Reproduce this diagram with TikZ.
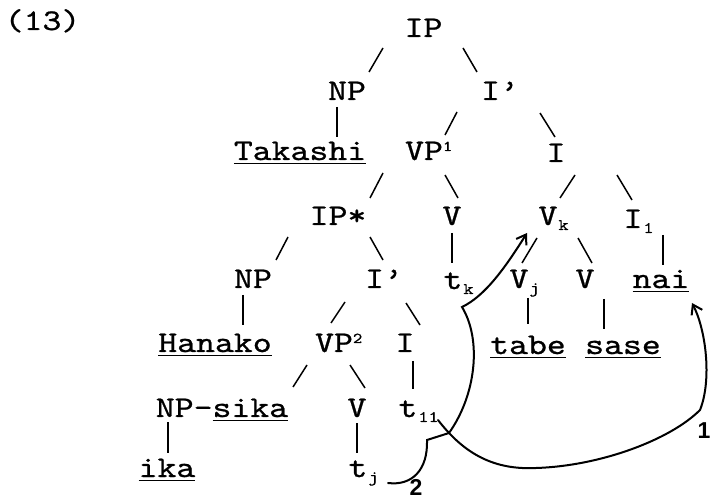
\documentclass[tikz,border=0pt]{standalone}
\usepackage{fontspec}
\usetikzlibrary{arrows.meta}
\newfontfamily\tw{lmmono10-regular.otf}[FakeStretch=1.2,FakeBold=0.8]
\newfontfamily\hand{Liberation Sans}
\newcommand\undl[1]{\setbox0\hbox{#1}\rlap{\rule[-4.2pt]{\wd0}{1.5pt}}\box0}
\newcommand\sbx[1]{\rlap{\kern1pt\raisebox{-5pt}{\fontsize{16}{16}\selectfont #1}}}
\newcommand\spx[1]{\rlap{\raisebox{9pt}{\fontsize{15}{15}\selectfont #1}}}
\tikzset{
  lbl/.style={anchor=base,inner sep=0pt,font=\tw\fontsize{30}{36}\selectfont},
  br/.style={line width=1.5pt},
  mv/.style={line width=2pt,line cap=round,-{Straight Barb[length=9pt,width=12pt]}},
  num/.style={anchor=center,inner sep=0pt,font=\hand\bfseries\fontsize{23}{23}\selectfont}
}
\begin{document}
\begin{tikzpicture}[x=1pt,y=-1pt]
\fill[white] (0,0) rectangle (712,502);
\useasboundingbox (0,0) rectangle (712,502);
% nodes
\node[lbl] (n13) at (42.5,30) {(13)};
\node[lbl] (IP) at (423.5,37) {IP};
\node[lbl] (NPa) at (347,100) {NP};
\node[lbl] (Iba) at (500,100) {I’};
\node[lbl] (Tak) at (300,160) {\undl{Takashi}};
\node[lbl] (VPa) at (424,160) {VP\spx{1}};
\node[lbl] (Ia) at (556,162) {I};
\node[lbl] (IPs) at (338,225) {IP*};
\node[lbl] (Va) at (452,225) {V};
\node[lbl] (Vk) at (548,225) {V\sbx{k}};
\node[lbl] (Ii) at (633,228) {I\sbx{1}};
\node[lbl] (NPb) at (253,288) {NP};
\node[lbl] (Ibb) at (384,288) {I’};
\node[lbl] (tk) at (453,289) {t\sbx{k}};
\node[lbl] (Vj) at (519,288) {V\sbx{j}};
\node[lbl] (Vb) at (585,288) {V};
\node[lbl] (nai) at (661,288) {\undl{nai}};
\node[lbl] (Han) at (215,352) {\undl{Hanako}};
\node[lbl] (VPb) at (334,352) {VP\spx{2}};
\node[lbl] (Ib) at (405,352) {I};
\node[lbl] (tabe) at (528,354) {\undl{tabe}};
\node[lbl] (sase) at (623,354) {\undl{sase}};
\node[lbl] (NPs) at (222,417) {NP-\undl{sika}};
\node[lbl] (Vc) at (357,417) {V};
\node[lbl] (tii) at (408,417) {t\sbx{11}};
\node[lbl] (ika) at (167,477) {\undl{ika}};
\node[lbl] (tj) at (358,477) {t\sbx{j}};
\node[num] (two) at (416,487) {2};
\node[num] (one) at (704,431) {1};
% tree branches
\draw[br] ([shift={(-40.5,11)}]IP.base) -- ([shift={(22,-28)}]NPa.base);
\draw[br] ([shift={(39.5,11)}]IP.base) -- ([shift={(-23,-28)}]Iba.base);
\draw[br] ([shift={(-10,7)}]NPa.base) -- ([shift={(37,-23)}]Tak.base);
\draw[br] ([shift={(-43,12)}]Iba.base) -- ([shift={(21,-25)}]VPa.base);
\draw[br] ([shift={(40,13)}]Iba.base) -- ([shift={(-1,-25)}]Ia.base);
\draw[br] ([shift={(-41,13)}]VPa.base) -- ([shift={(32,-27)}]IPs.base);
\draw[br] ([shift={(21,15)}]VPa.base) -- ([shift={(6,-27)}]Va.base);
\draw[br] ([shift={(19,13)}]Ia.base) -- ([shift={(12,-27)}]Vk.base);
\draw[br] ([shift={(61,13)}]Ia.base) -- ([shift={(-1,-28)}]Ii.base);
\draw[br] ([shift={(-50,12)}]IPs.base) -- ([shift={(23,-28)}]NPb.base);
\draw[br] ([shift={(32,12)}]IPs.base) -- ([shift={(-1,-28)}]Ibb.base);
\draw[br] ([shift={(0,8)}]Va.base) -- ([shift={(-1,-26)}]tk.base);
\draw[br] ([shift={(-11,13)}]Vk.base) -- ([shift={(3,-25)}]Vj.base);
\draw[br] ([shift={(30,13)}]Vk.base) -- ([shift={(7,-25)}]Vb.base);
\draw[br] ([shift={(30,7)}]Ii.base) -- ([shift={(2,-23)}]nai.base);
\draw[br] ([shift={(-10,7)}]NPb.base) -- ([shift={(28,-27)}]Han.base);
\draw[br] ([shift={(-39,14)}]Ibb.base) -- ([shift={(-3,-29)}]VPb.base);
\draw[br] ([shift={(22,15)}]Ibb.base) -- ([shift={(15,-27)}]Ib.base);
\draw[br] ([shift={(9,10)}]Vj.base) -- ([shift={(0,-30)}]tabe.base);
\draw[br] ([shift={(19,11)}]Vb.base) -- ([shift={(-19,-25)}]sase.base);
\draw[br] ([shift={(-27,13)}]VPb.base) -- ([shift={(71,-30)}]NPs.base);
\draw[br] ([shift={(16,13)}]VPb.base) -- ([shift={(8,-29)}]Vc.base);
\draw[br] ([shift={(8,9)}]Ib.base) -- ([shift={(5,-28)}]tii.base);
\draw[br] ([shift={(-54,5)}]NPs.base) -- ([shift={(1,-24)}]ika.base);
\draw[br] ([shift={(0,6)}]Vc.base) -- ([shift={(-1,-24)}]tj.base);
% movement arrows
\draw[mv] ([shift={(30,3)}]tii.base) .. controls (465,455) and (495,470) .. (536,468)
  .. controls (600,466) and (670,440) .. (700,410)
  .. controls (712,380) and (706,330) .. ([shift={(31,15)}]nai.base);
\draw[mv] ([shift={(30,6)}]tj.base) .. controls (412,486) and (428,470) .. (427,440)
  -- (449,433) .. controls (476,395) and (482,340) .. (462,307)
  .. controls (485,296) and (505,268) .. ([shift={(-21,8)}]Vk.base);
\end{tikzpicture}
\end{document}
